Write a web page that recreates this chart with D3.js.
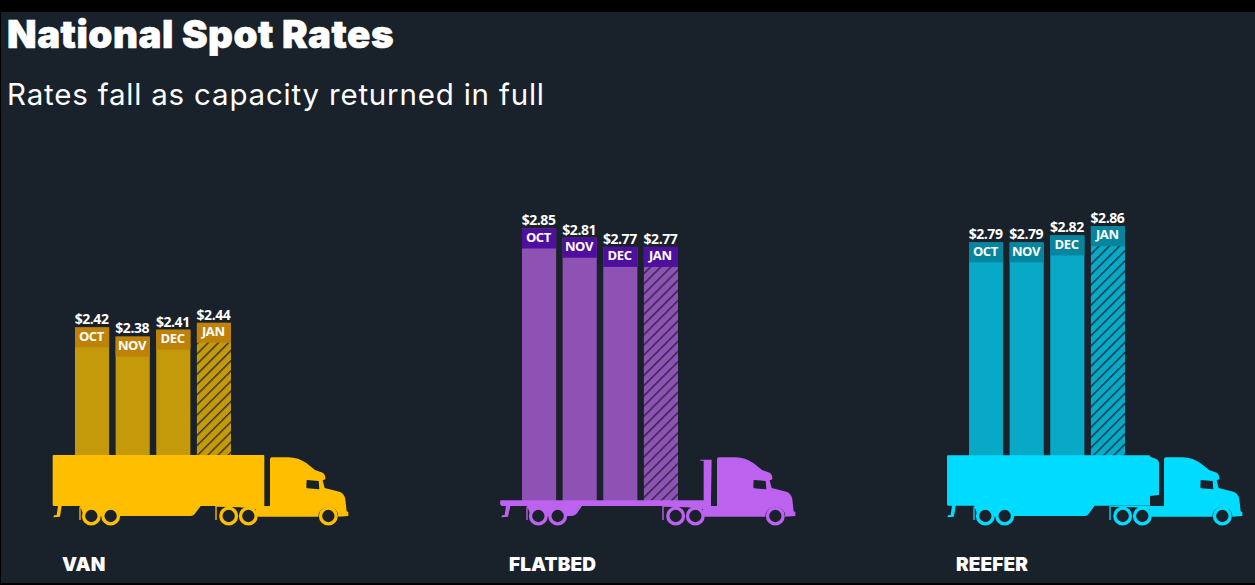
<!DOCTYPE html>
<html><head><meta charset="utf-8">
<script src="https://cdn.jsdelivr.net/npm/d3@7"></script>
<style>html,body{margin:0;padding:0;background:#000;overflow:hidden}svg{display:block}</style>
</head><body><svg id="c" width="1255" height="585"></svg>
<script>
const months = ["OCT","NOV","DEC","JAN"];
const groups = ["VAN","FLATBED","REEFER"];
const vanValues = [2.42,2.38,2.41,2.44];
const flatbedValues = [2.85,2.81,2.77,2.77];
const reeferValues = [2.79,2.79,2.82,2.86];
const seriesValues = [vanValues,flatbedValues,reeferValues];
const truckColors = ["#FFBE00","#BC62EE","#00DCFF"];
const barColors = ["#C4990A","#8E52B5","#07A9C7"];
const headColors = ["#BF8208","#4E0E9E","#07849E"];
const title = "National Spot Rates";
const subtitle = "Rates fall as capacity returned in full";
const BG = "#19212A";

const svg = d3.select("#c");
svg.append("rect").attr("x",1).attr("y",12).attr("width",1254).attr("height",571).attr("fill",BG);

const defs = svg.append("defs");
groups.forEach((g,i)=>{
  const p = defs.append("pattern").attr("id","hatch"+i).attr("patternUnits","userSpaceOnUse")
    .attr("width",7.2).attr("height",7.2).attr("patternTransform","rotate(45)");
  p.append("rect").attr("width",7.2).attr("height",7.2).attr("fill",barColors[i]);
  p.append("rect").attr("x",0).attr("width",1.5).attr("height",7.2).attr("fill",BG).attr("opacity",0.8);
});

const y = d3.scaleLinear().domain([2,3]).range([424,194]);
const gx = d3.scalePoint().domain(groups).range([75,969]);
const bx = d3.scaleBand().domain(months).range([0,156]).paddingInner(0.16).paddingOuter(0);
const baseY = [456,501,456];
const bandH = 20;

const mud = "M118 620L130 620L130 623L122 623L122 660L118 660Z";
const trailerPaths = [
 "M38 468Q38 465 41 465L670 465Q673 465 673 468L673 615Q673 618 670 618L482 618L464 642Q460 648 452 648L132 648L120 618L65 618L60 650L40 652L42 646L50 645L54 618L42 618Q38 618 38 614Z",
 "M40 601L650 601L650 482L640 482L640 479L674 479L672 602L672 618L285 618L270 640Q264 648 255 648L132 648L120 618L70 618L63 650L43 652L45 646L53 645L57 618L44 618L39 612Z",
 "M39 469Q39 466 42 466L645 466Q648 466 649 470L665 476Q675 480 675 490L675 585L648 588L648 617L482 617L464 642Q460 648 452 648L132 648L120 617L65 617L60 650L40 652L42 646L50 645L54 617L43 617Q39 617 39 613Z"
];
const cabPath = "M690 478Q690 472 696 472L745 472Q775 472 800 490L825 510L848 518Q857 523 856 538L848 541L854 564L898 575Q913 580 916 598L920 634L925 636L925 648L895 650A30 30 0 0 0 835 650L655 650L648 645L648 628L600 622L530 620L530 660L526 660L526 618L690 618Z";
const windowPath = "M800 540L836 543L838 568L802 565Q799 565 799 561Z";
const wheels = [154,212,566,625,865];

groups.forEach((g,i)=>{
  const vals = seriesValues[i];
  const cg = svg.append("g").attr("class","group");
  const x0 = gx(g);
  months.forEach((m,j)=>{
    const v = vals[j], x = x0 + bx(m), w = bx.bandwidth(), t = y(v);
    cg.append("rect").attr("x",x).attr("y",t).attr("width",w).attr("height",baseY[i]-t)
      .attr("fill", m==="JAN" ? `url(#hatch${i})` : barColors[i]);
    cg.append("rect").attr("x",x).attr("y",t).attr("width",w).attr("height",bandH).attr("fill",headColors[i]);
    cg.append("text").attr("x",x+w/2-0.7).attr("y",t+bandH/2+3.2).attr("text-anchor","middle")
      .attr("font-family","Open Sans").attr("font-weight",700).attr("font-size",13).attr("letter-spacing",-0.4).attr("fill","#fff").text(m);
    cg.append("text").attr("x",x+w/2-0.5).attr("y",t-3.2).attr("text-anchor","middle")
      .attr("font-family","Open Sans").attr("font-weight",700).attr("font-size",14).attr("letter-spacing",-0.45).attr("fill","#fff").text("$"+v.toFixed(2));
  });
  const dx = x0 - 75;
  const tr = svg.append("g").attr("transform",`translate(${40+dx},300) scale(${1/3})`);
  tr.append("path").attr("d",trailerPaths[i]).attr("fill",truckColors[i]);
  tr.append("path").attr("d",mud).attr("fill",truckColors[i]);
  tr.append("path").attr("d",cabPath).attr("fill",truckColors[i]);
  tr.append("path").attr("d",windowPath).attr("fill",BG);
  tr.selectAll("circle").data(wheels).join("circle").attr("cx",d=>d).attr("cy",648).attr("r",23.5)
    .attr("fill",BG).attr("stroke",truckColors[i]).attr("stroke-width",10);
  svg.append("text").attr("x",x0-13).attr("y",571).attr("font-family","Inter").attr("font-weight",900)
    .attr("font-size",19).attr("letter-spacing",0.1).attr("fill","#fff").text(g);
});

svg.append("text").attr("x",7).attr("y",48).attr("font-family","Inter").attr("font-weight",900)
  .attr("font-size",38.5).attr("letter-spacing",0.5).attr("stroke","#fff").attr("stroke-width",0.6).attr("fill","#fff").text(title);
svg.append("text").attr("x",7).attr("y",105).attr("font-family","Inter").attr("font-weight",400)
  .attr("font-size",29.5).attr("letter-spacing",0.8).attr("fill","#fff").text(subtitle);
</script></body></html>
